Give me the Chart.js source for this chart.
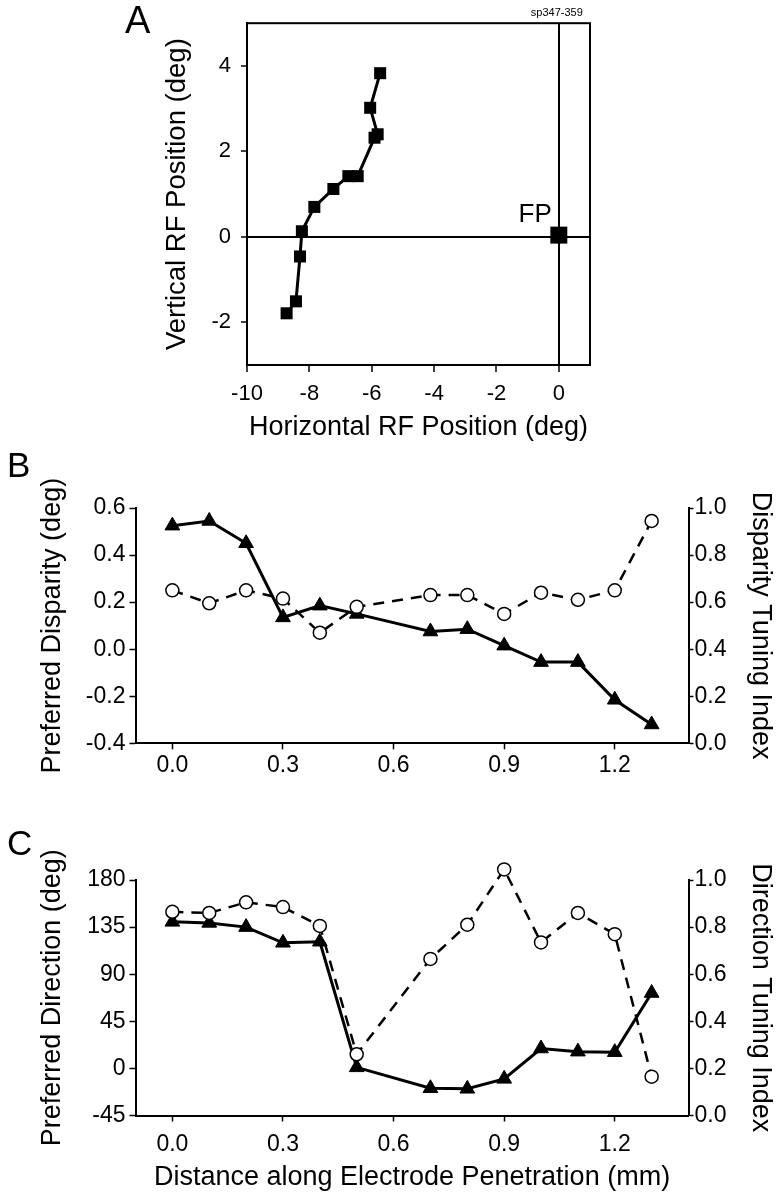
<!DOCTYPE html>
<html>
<head>
<meta charset="utf-8">
<script src="https://cdn.jsdelivr.net/npm/chart.js@4.4.1/dist/chart.umd.min.js"></script>
<style>
  html, body { margin: 0; padding: 0; background: #fff; }
  body { width: 780px; height: 1199px; position: relative; overflow: hidden; }
  canvas { position: absolute; left: 0; }
</style>
</head>
<body>
<canvas id="panel-a" width="780" height="444" style="top:0px"></canvas>
<canvas id="panel-b" width="780" height="356" style="top:444px"></canvas>
<canvas id="panel-c" width="780" height="399" style="top:800px"></canvas>
<script>
// A: receptive field centres along the penetration
const rfX = [-5.73, -6.05, -5.81, -5.91, -6.45, -6.75, -7.23, -7.84, -8.24, -8.30, -8.43, -8.73];
const rfY = [3.83, 3.02, 2.40, 2.32, 1.42, 1.42, 1.12, 0.70, 0.13, -0.46, -1.51, -1.79];
const fpX = [0];
const fpY = [0.04];
const rfTicksX = [-10, -8, -6, -4, -2, 0];
const rfTicksY = [-2, 0, 2, 4];

// B and C: distance along the electrode (mm), no site at 0.6
const distance = [0, 0.1, 0.2, 0.3, 0.4, 0.5, 0.7, 0.8, 0.9, 1.0, 1.1, 1.2, 1.3];
const prefDisparity = [0.525, 0.545, 0.45, 0.135, 0.185, 0.15, 0.075, 0.085, 0.015, -0.055, -0.055, -0.215, -0.32];
const disparityIndex = [0.65, 0.595, 0.65, 0.615, 0.47, 0.58, 0.63, 0.63, 0.55, 0.64, 0.61, 0.65, 0.945];
const prefDirection = [140, 139, 135, 120, 121, 1, -19, -19.5, -10, 19, 16, 15.5, 72];
const directionIndex = [0.865, 0.86, 0.905, 0.885, 0.805, 0.26, 0.665, 0.81, 1.045, 0.735, 0.86, 0.77, 0.165];
const distTicks = [0, 0.3, 0.6, 0.9, 1.2];
const disparityTicks = [-0.4, -0.2, 0, 0.2, 0.4, 0.6];
const directionTicks = [-45, 0, 45, 90, 135, 180];
const indexTicks = [0, 0.2, 0.4, 0.6, 0.8, 1.0];

const FONT = '"Liberation Sans", Arial, Helvetica, sans-serif';
Chart.defaults.font.family = FONT;
Chart.defaults.color = '#000';
Chart.defaults.animation = false;
Chart.defaults.responsive = false;
Chart.defaults.plugins.legend.display = false;
Chart.defaults.plugins.tooltip.enabled = false;

const pts = (xs, ys) => xs.map((x, i) => ({ x: x, y: ys[i] }));
const fixTicks = vals => s => { s.ticks = vals.map(v => ({ value: v })); };

const letter = (txt, x, y, size) => ({
  id: 'letter',
  afterDraw(chart) {
    const ctx = chart.ctx;
    ctx.save();
    ctx.font = size + 'px ' + FONT;
    ctx.fillStyle = '#000';
    ctx.textAlign = 'left';
    ctx.textBaseline = 'alphabetic';
    ctx.fillText(txt, x, y);
    ctx.restore();
  }
});

// let points poke out above the top of the plot (C peaks above 1.0)
const roomAbove = {
  id: 'roomAbove',
  beforeDatasetsDraw(chart) { chart.chartArea.top -= 40; },
  afterDatasetsDraw(chart) { chart.chartArea.top += 40; }
};

// box round panel A
const frame = {
  id: 'frame',
  beforeDatasetsDraw(chart) {
    const a = chart.chartArea;
    const ctx = chart.ctx;
    ctx.save();
    ctx.strokeStyle = '#000';
    ctx.lineWidth = 2;
    ctx.strokeRect(a.left, a.top, a.right - a.left, a.bottom - a.top);
    ctx.restore();
  }
};

const fpLabel = {
  id: 'fpLabel',
  afterDatasetsDraw(chart) {
    const ctx = chart.ctx;
    const px = chart.scales.x.getPixelForValue(fpX[0]);
    const py = chart.scales.y.getPixelForValue(fpY[0]);
    ctx.save();
    ctx.fillStyle = '#000';
    ctx.font = '26px ' + FONT;
    ctx.textAlign = 'right';
    ctx.fillText('FP', px - 7, py - 13);
    ctx.font = '11px ' + FONT;
    ctx.textAlign = 'center';
    ctx.fillText('sp347-359', px - 2, chart.chartArea.top - 7);
    ctx.restore();
  }
};

const zeroLine = c => (c.tick && c.tick.value === 0 ? '#000' : 'rgba(0,0,0,0)');

new Chart(document.getElementById('panel-a'), {
  type: 'line',
  data: {
    datasets: [
      {
        data: pts(rfX, rfY),
        borderColor: '#000',
        borderWidth: 3,
        pointStyle: 'rect',
        pointRadius: 8.5,
        pointBackgroundColor: '#000',
        pointBorderColor: '#000',
        pointBorderWidth: 0,
        clip: false,
      },
      {
        data: pts(fpX, fpY),
        showLine: false,
        pointStyle: 'rect',
        pointRadius: 12,
        pointBackgroundColor: '#000',
        pointBorderColor: '#000',
        pointBorderWidth: 0,
        clip: false,
      },
    ],
  },
  options: {
    layout: { padding: { top: 20, right: 190, left: 0, bottom: 0 } },
    scales: {
      x: {
        type: 'linear',
        min: -10,
        max: 1,
        afterBuildTicks: fixTicks(rfTicksX),
        afterFit: s => { s.height = 79; },
        border: { color: '#000', width: 2 },
        grid: { color: zeroLine, lineWidth: 2, tickColor: '#000', tickWidth: 1.5, tickLength: 7 },
        ticks: { font: { size: 22 }, padding: 9, autoSkip: false, maxRotation: 0 },
        title: { display: true, text: 'Horizontal RF Position (deg)', font: { size: 27 }, padding: { top: 0, bottom: 0 } },
      },
      y: {
        type: 'linear',
        min: -3,
        max: 5,
        afterBuildTicks: fixTicks(rfTicksY),
        afterFit: s => { s.width = 247; },
        border: { color: '#000', width: 2 },
        grid: { color: zeroLine, lineWidth: 2, tickColor: '#000', tickWidth: 1.5, tickLength: 6 },
        ticks: { font: { size: 22 }, padding: 10, autoSkip: false },
        title: { display: true, text: 'Vertical RF Position (deg)', font: { size: 27.5 }, padding: { top: 161, bottom: 0 } },
      },
    },
  },
  plugins: [frame, fpLabel, letter('A', 125, 33, 38)],
});

// shared styles for B and C
const circleSet = (ys, axis) => ({
  data: pts(distance, ys),
  yAxisID: axis,
  borderColor: '#000',
  borderWidth: 2.5,
  borderDash: [11, 8],
  pointStyle: 'circle',
  pointRadius: 6.5,
  pointBackgroundColor: '#fff',
  pointBorderColor: '#000',
  pointBorderWidth: 1.5,
  clip: false,
});
const triangleSet = (ys, axis) => ({
  data: pts(distance, ys),
  yAxisID: axis,
  borderColor: '#000',
  borderWidth: 3,
  pointStyle: 'triangle',
  pointRadius: 8.5,
  pointBackgroundColor: '#000',
  pointBorderColor: '#000',
  pointBorderWidth: 1,
  clip: false,
});
const distAxis = (height, pad, title) => ({
  type: 'linear',
  min: -0.1,
  max: 1.4,
  afterBuildTicks: fixTicks(distTicks),
  afterFit: s => { s.height = height; },
  border: { color: '#000', width: 2 },
  grid: { drawOnChartArea: false, tickColor: '#000', tickWidth: 1.5, tickLength: 6 },
  ticks: { font: { size: 23 }, padding: pad, autoSkip: false, maxRotation: 0, callback: v => v.toFixed(1) },
  title: { display: !!title, text: title || '', font: { size: 27 }, padding: { top: 0, bottom: 5 } },
});
const leftAxis = (min, max, vals, fmt, title) => ({
  type: 'linear',
  position: 'left',
  min: min,
  max: max,
  afterBuildTicks: fixTicks(vals),
  afterFit: s => { s.width = 135.5; },
  border: { color: '#000', width: 2 },
  grid: { drawOnChartArea: false, tickColor: '#000', tickWidth: 1.5, tickLength: 6 },
  ticks: { font: { size: 23 }, padding: 4, autoSkip: false, callback: fmt },
  title: { display: true, text: title, font: { size: 27 }, padding: { top: 36, bottom: 0 } },
});
const rightAxis = title => ({
  type: 'linear',
  position: 'right',
  min: 0,
  max: 1,
  afterBuildTicks: fixTicks(indexTicks),
  afterFit: s => { s.width = 91.5; },
  border: { color: '#000', width: 2 },
  grid: { drawOnChartArea: false, tickColor: '#000', tickWidth: 1.5, tickLength: 5 },
  ticks: { font: { size: 23 }, padding: 1, autoSkip: false, callback: v => v.toFixed(1) },
  title: { display: true, text: title, font: { size: 27 }, padding: { top: 3, bottom: 0 } },
});

new Chart(document.getElementById('panel-b'), {
  type: 'line',
  data: {
    datasets: [circleSet(disparityIndex, 'y1'), triangleSet(prefDisparity, 'y')],
  },
  options: {
    layout: { padding: { top: 64, right: 0, left: 0, bottom: 0 } },
    scales: {
      x: distAxis(56.7, 3, ''),
      y: leftAxis(-0.4, 0.6, disparityTicks, v => v.toFixed(1), 'Preferred Disparity (deg)'),
      y1: rightAxis('Disparity Tuning Index'),
    },
  },
  plugins: [roomAbove, letter('B', 7, 33, 35)],
});

new Chart(document.getElementById('panel-c'), {
  type: 'line',
  data: {
    datasets: [circleSet(directionIndex, 'y1'), triangleSet(prefDirection, 'y')],
  },
  options: {
    layout: { padding: { top: 80, right: 0, left: 0, bottom: 0 } },
    scales: {
      x: distAxis(83.5, 9, 'Distance along Electrode Penetration (mm)'),
      y: leftAxis(-45, 180, directionTicks, v => String(v), 'Preferred Direction (deg)'),
      y1: rightAxis('Direction Tuning Index'),
    },
  },
  plugins: [roomAbove, letter('C', 7, 55, 35)],
});
</script>
</body>
</html>
